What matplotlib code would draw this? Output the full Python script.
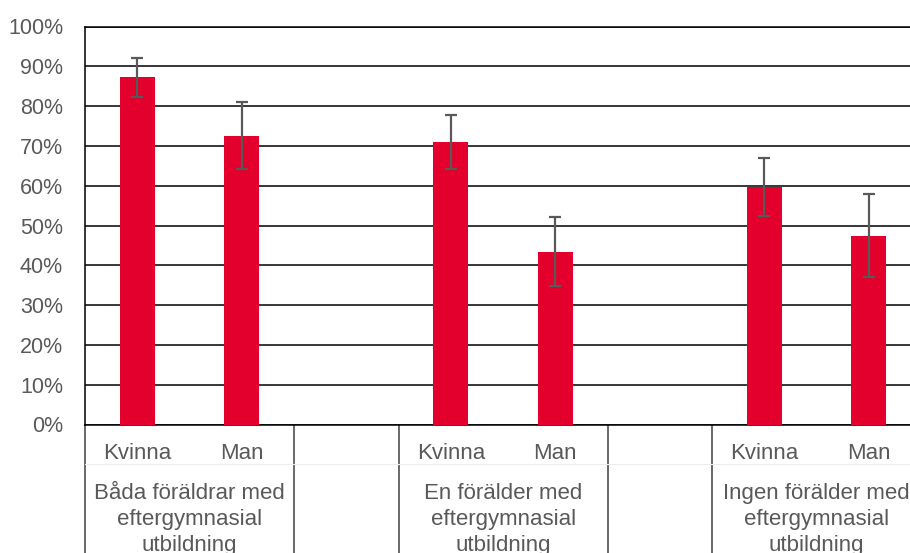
import matplotlib
matplotlib.use('Agg')
import matplotlib.pyplot as plt
import numpy as np

# Data (percent)
groups = ['Båda föräldrar med\neftergymnasial\nutbildning',
          'En förälder med\neftergymnasial\nutbildning',
          'Ingen förälder med\neftergymnasial\nutbildning']
sexes = ['Kvinna', 'Man']
values = [87.2, 72.6, 70.9, 43.4, 59.7, 47.4]
err_high = [92.0, 81.0, 77.7, 52.1, 67.0, 57.8]
err_low = [82.4, 64.2, 64.2, 34.8, 52.3, 37.1]
yticks = [0, 10, 20, 30, 40, 50, 60, 70, 80, 90, 100]

plt.rcParams['font.family'] = ['Liberation Sans', 'DejaVu Sans']
text_color = '#595959'

fig = plt.figure(figsize=(9.1, 5.53), dpi=100)
W, H = 910, 553
ax_left, ax_right = 85.25, 921.0
ax_bottom, ax_top = 424.5, 26.5
ax = fig.add_axes([ax_left / W, (H - ax_bottom) / H,
                   (ax_right - ax_left) / W, (ax_bottom - ax_top) / H])

# positions: each group takes 2 slots plus an empty slot
pos = []
ticklabels = []
for g in range(len(groups)):
    for s in range(len(sexes)):
        pos.append(3 * g + s)
        ticklabels.append(sexes[s])
pos = np.array(pos)
vals = np.array(values)
lo = vals - np.array(err_low)
hi = np.array(err_high) - vals

ax.bar(pos, vals, width=0.335, color='#E3002C', zorder=3)
ax.errorbar(pos, vals, yerr=[lo, hi], fmt='none', ecolor='#595959',
            elinewidth=1.6, capsize=4.3, capthick=1.6, zorder=4)

ax.set_xlim(-0.5, 7.5)
ax.set_ylim(0, 100)
ax.set_yticks(yticks)
ax.set_yticklabels([f'{t}%' for t in yticks])
ax.yaxis.grid(True, color='black', linewidth=1.1, zorder=0)
ax.set_axisbelow(True)
ax.tick_params(axis='y', length=0, pad=16, labelsize=15.5, labelcolor=text_color)

ax.set_xticks(pos)
ax.set_xticklabels(ticklabels)
ax.tick_params(axis='x', length=0, pad=13, labelsize=16, labelcolor=text_color)

ax.spines['right'].set_visible(False)
for side in ['left', 'bottom', 'top']:
    ax.spines[side].set_color('black')
    ax.spines[side].set_linewidth(1.1)

# multi-level category axis
trans = ax.get_xaxis_transform()
ax_h = ax_bottom - ax_top
below = -(H - ax_bottom) / ax_h
for b in [-0.5, 1.5, 2.5, 4.5, 5.5, 7.5]:
    ax.plot([b, b], [0, below], transform=trans, color='#404040',
            linewidth=1.1, clip_on=False)
ax.plot([-0.5, 7.5], [-39.5 / ax_h] * 2, transform=trans, color='#EDEDED',
        linewidth=0.8, clip_on=False)

for g, name in enumerate(groups):
    ax.text(3 * g + 0.5, -95 / ax_h, name, transform=trans, ha='center',
            va='center', fontsize=16, color=text_color, linespacing=1.32)

fig.savefig('out.png', dpi=100)
